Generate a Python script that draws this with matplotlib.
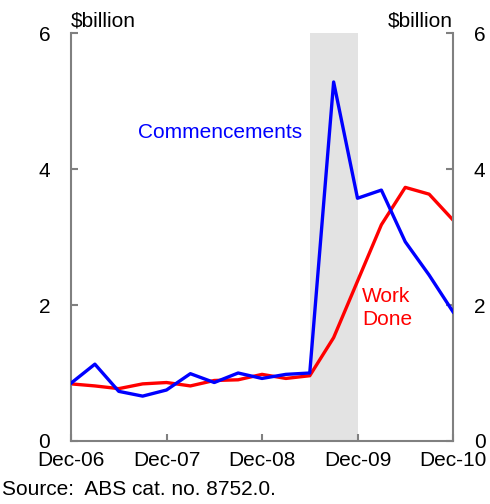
import numpy as np
import matplotlib.pyplot as plt

plt.rcParams['font.family'] = ['Liberation Sans', 'DejaVu Sans']

# quarterly, Dec-06 to Dec-10
quarters = np.arange(17)
commencements = [0.85, 1.13, 0.73, 0.66, 0.75, 0.99, 0.86, 1.00, 0.92, 0.98, 1.00,
                 5.28, 3.57, 3.69, 2.93, 2.44, 1.90]
work_done = [0.84, 0.81, 0.77, 0.84, 0.86, 0.81, 0.89, 0.90, 0.98, 0.92, 0.96,
             1.52, 2.35, 3.18, 3.73, 3.63, 3.25]
tick_pos = [0, 4, 8, 12, 16]
tick_lab = ['Dec-06', 'Dec-07', 'Dec-08', 'Dec-09', 'Dec-10']
shade = (10, 12)

grey = '#808080'
fs = 15

fig = plt.figure(figsize=(4.9, 5.04), dpi=100)
ax = fig.add_axes([0.1449, 0.125, 0.7796, 0.8095])

ax.axvspan(shade[0], shade[1], color='#e3e3e3', lw=0, zorder=0)
ax.plot(quarters, commencements, color='#0000ff', lw=2.4, zorder=3)
ax.plot(quarters, work_done, color='#ff0000', lw=2.4, zorder=2)

ax.set_xlim(0, 16)
ax.set_ylim(0, 6)
ax.set_xticks(tick_pos)
ax.set_xticklabels(tick_lab, fontsize=fs)
ax.set_yticks([0, 2, 4, 6])
ax.set_yticklabels(['0', '2', '4', '6'], fontsize=fs)

for s in ['left', 'right', 'bottom']:
    ax.spines[s].set_color(grey)
    ax.spines[s].set_linewidth(1.5)
ax.spines['top'].set_visible(False)

ax.tick_params(axis='x', direction='in', length=5, color=grey, width=1.5, pad=7)
ax.tick_params(axis='y', direction='in', length=5, color=grey, width=1.5, pad=15,
               left=True, right=True, labelleft=True, labelright=True)

ax.text(0.0, 1.005, '$billion', transform=ax.transAxes, fontsize=fs, ha='left', va='bottom')
ax.text(1.0, 1.005, '$billion', transform=ax.transAxes, fontsize=fs, ha='right', va='bottom')

ax.text(2.8, 4.53, 'Commencements', color='#0000ff', fontsize=fs, ha='left', va='center')
ax.text(12.2, 1.96, 'Work\nDone', color='#ff0000', fontsize=fs, ha='left', va='center',
        linespacing=1.25)

fig.text(0.005, 0.028, 'Source:  ABS cat. no. 8752.0.', fontsize=fs, ha='left', va='center')

fig.savefig('out.png', dpi=100)
